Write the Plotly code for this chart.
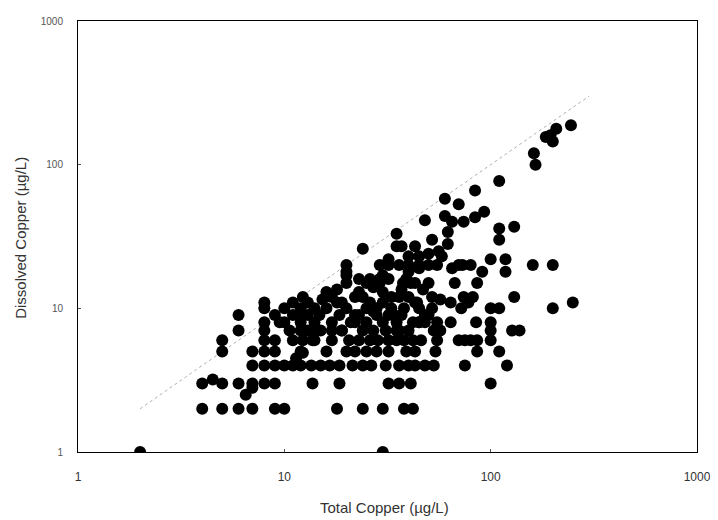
import plotly.graph_objects as go

# Total copper (x) and dissolved copper (y), ug/L
total_copper = [
    2, 30,
    4, 5, 6, 7, 9, 10, 18, 24, 30, 38, 42,
    6.5, 7,
    4, 4.5, 5, 6, 7, 8, 9, 13.7, 18.5, 32, 36, 41, 100,
    7, 8, 9, 10, 11, 12, 13.5, 15, 16.6, 18.5, 21.4, 24, 26.4, 31, 36, 40, 43, 48, 53, 75, 120,
    11.4, 12.3,
    5, 7, 8, 9, 12, 20, 22, 28, 32, 39, 43, 54, 86, 110,
    5, 8, 9, 11, 12.3, 13.7, 17, 20.6, 23, 26, 28.4, 32, 38, 42, 46, 55, 70, 75, 80, 86, 100,
    6, 8, 10.6, 12, 13, 14.3, 15, 17, 19, 27, 31, 36, 40, 53, 57, 100, 127, 138,
    8, 9.5, 12, 14, 17, 22, 25, 30, 35, 45, 48, 64, 85, 100,
    6, 9, 11.8, 14.8, 18.5, 23, 28, 32, 37, 50,
    8, 10, 12, 14, 20, 25, 33, 45, 52, 72, 100, 110, 200,
    8, 11, 13, 15.3, 19, 30, 43, 64, 78, 250,
    12.3, 17, 24, 36, 52, 74, 82, 130,
    18, 23, 37, 47, 57,
    20, 25, 29, 37.6, 41, 43, 50, 67, 86,
    20, 23, 26, 29, 32, 30, 39,
    20, 20, 29, 32, 36, 40, 40, 45, 45, 50, 55, 65, 70, 73, 80, 91, 118, 160, 200,
    32, 40, 45, 58, 100, 118,
    24, 35, 37, 43, 50, 56, 62,
    35, 52, 62, 110, 110, 130,
    48, 60, 65, 74, 84, 93,
    60, 70, 84,
    110, 162, 165, 185, 195, 200, 208, 245,
    13, 16, 18, 22, 26, 28, 34, 38, 42, 30, 27, 33, 40, 44, 21, 19, 24, 10, 11,
    14, 16, 25, 35, 48, 55, 16, 22, 35, 45, 27,
]
dissolved_copper = [
    1, 1,
    2, 2, 2, 2, 2, 2, 2, 2, 2, 2, 2,
    2.5, 2.8,
    3, 3.2, 3, 3, 3, 3, 3, 3, 3, 3, 3, 3, 3,
    4, 4, 4, 4, 4, 4, 4, 4, 4, 4, 4, 4, 4, 4, 4, 4, 4, 4, 4, 4, 4,
    4.5, 4.9,
    5, 5, 5, 5, 5, 5, 5, 5, 5, 5, 5, 5, 5, 5,
    6, 6, 6, 6, 6, 6, 6, 6, 6, 6, 6, 6, 6, 6, 6, 6, 6, 6, 6, 6, 6,
    7, 7, 7, 7, 7, 7, 7, 7, 7, 7, 7, 7, 7, 7, 7, 7, 7, 7,
    8, 8, 8, 8, 8, 8, 8, 8, 8, 8, 8, 8, 8, 8,
    9, 9, 9, 9, 9, 9, 9, 9, 9, 9,
    10, 10, 10, 10, 10, 10, 10, 10, 10, 10, 10, 10, 10,
    11, 11, 11, 11.5, 11, 11, 11, 11, 11, 11,
    12, 12, 12, 12, 12, 12, 12, 12,
    13.5, 13, 13.5, 13.5, 11.5,
    15, 15, 15, 15, 15, 15, 15, 15, 15,
    17, 16, 16, 16, 16, 17, 16,
    20, 18, 20, 20, 20, 20, 18, 20, 19, 20, 20, 19, 20, 20, 20, 18, 18, 20, 20,
    22, 23, 23, 23, 22, 22,
    26, 27, 27, 27, 24, 25, 28,
    33, 30, 34, 30, 36, 37,
    41, 44, 40, 40, 43, 47,
    58, 53, 66,
    77, 120, 100, 156, 160, 145, 178, 188,
    9, 10, 11, 12, 11, 10, 9, 10, 8, 13, 14, 12, 12, 11, 8, 7, 7, 8, 9,
    6, 5, 5, 6, 9, 8, 13, 9, 7, 8, 9.5,
]

# 1:1 reference line
line_x = [2, 300]
line_y = [2, 300]

x_ticks = [1, 10, 100, 1000]
x_tick_labels = ["1", "10", "100", "1000"]
y_ticks = [1, 10, 100, 1000]
y_tick_labels = ["1", "10", "100", "1000"]

fig = go.Figure()
fig.add_trace(go.Scatter(
    x=line_x, y=line_y, mode="lines",
    line=dict(color="#b0b0b0", width=1, dash="dot"),
    showlegend=False, hoverinfo="skip",
))
fig.add_trace(go.Scatter(
    x=total_copper, y=dissolved_copper, mode="markers",
    marker=dict(color="black", size=12, line=dict(width=0)),
    showlegend=False,
))

font_family = "Liberation Sans, Arial, sans-serif"
# the page body adds an 8 px offset, so the figure is 8 px smaller
fig.update_layout(
    width=710, height=512,
    margin=dict(l=70, r=20, t=7, b=68),
    paper_bgcolor="white", plot_bgcolor="white",
    font=dict(family=font_family, color="#222"),
    xaxis=dict(
        type="log", range=[0, 3], showgrid=False, zeroline=False,
        showline=True, linecolor="black", linewidth=1, mirror=True,
        ticks="inside", ticklen=3, tickcolor="#555",
        tickvals=x_ticks, ticktext=x_tick_labels,
        tickfont=dict(size=12, color="#333"), ticklabelstandoff=14,
    ),
    yaxis=dict(
        type="log", range=[0, 3], showgrid=False, zeroline=False,
        showline=True, linecolor="black", linewidth=1, mirror=True,
        ticks="inside", ticklen=3, tickcolor="#555",
        tickvals=y_ticks, ticktext=y_tick_labels,
        tickfont=dict(size=10, color="#555"), ticklabelstandoff=12,
    ),
    annotations=[
        dict(text="Total Copper (µg/L)", xref="paper", yref="paper",
             x=0.495, y=-0.128, xanchor="center", yanchor="middle",
             showarrow=False, font=dict(size=15, color="#333")),
        dict(text="Dissolved Copper (µg/L)", xref="paper", yref="paper",
             x=-0.092, y=0.497, xanchor="center", yanchor="middle",
             textangle=-90, showarrow=False, font=dict(size=15, color="#333")),
    ],
)

fig.write_html("out.html")
